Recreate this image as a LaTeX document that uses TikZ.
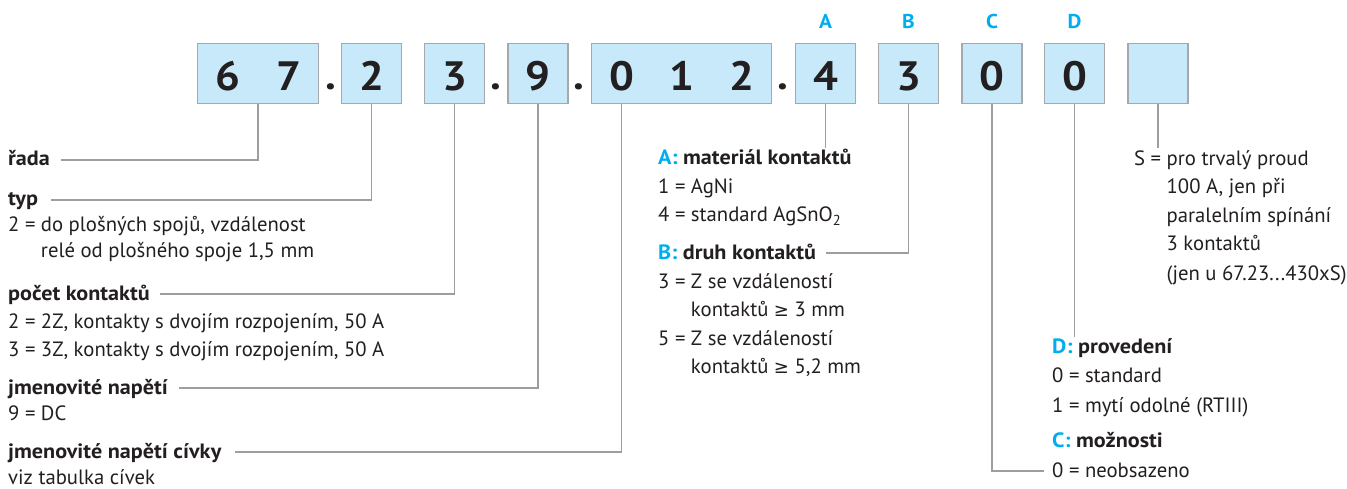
\documentclass[tikz,border=0pt]{standalone}
\usepackage{fontspec}
\setmainfont[BoldFeatures={FakeStretch=1.07}]{PT Sans}
\newfontfamily\symfont{DejaVu Sans}
\newcommand{\gesym}{{\symfont\fontsize{18}{20}\selectfont ≥}}
\definecolor{boxfill}{RGB}{200,233,249}
\definecolor{boxline}{RGB}{165,168,172}
\definecolor{conngray}{RGB}{158,158,158}
\definecolor{cyanA}{RGB}{0,174,239}
\definecolor{txt}{RGB}{35,31,32}
\begin{document}
\begin{tikzpicture}[x=1pt,y=-1pt,
  digitbox/.style={draw=boxline, line width=1.5pt, fill=boxfill, minimum height=60pt, minimum width=60pt, inner sep=0pt},
  digit/.style={anchor=base, inner sep=0pt, text=txt, font=\fontsize{41}{41}\selectfont\bfseries},
  letter/.style={anchor=base, inner sep=0pt, text=cyanA, font=\fontsize{20}{24}\selectfont\bfseries},
  lbl/.style={anchor=base west, inner sep=0pt, text=txt, font=\fontsize{20.7}{24}\selectfont},
  hd/.style={anchor=base west, inner sep=0pt, text=txt, font=\fontsize{20.7}{24}\selectfont\bfseries},
  conn/.style={draw=conngray, line width=1.5pt}
]
\fill[white] (0,0) rectangle (1347,489);
\useasboundingbox (0,0) rectangle (1347,489);

% boxes
\node[digitbox, minimum width=121pt] (b67) at (258,73.5) {};
\node[digitbox] (b2) at (371.5,73.5) {};
\node[digitbox] (b3) at (454.5,73.5) {};
\node[digitbox] (b9) at (538,73.5) {};
\node[digitbox, minimum width=180pt] (b012) at (681.5,73.5) {};
\node[digitbox] (bA) at (825.5,73.5) {};
\node[digitbox] (bB) at (908.5,73.5) {};
\node[digitbox] (bC) at (992,73.5) {};
\node[digitbox] (bD) at (1074.5,73.5) {};
\node[digitbox] (bE) at (1158,73.5) {};

% digits
\node[digit] (d6) at (227.5,91) {6};
\node[digit] (d7) at (288.5,91) {7};
\node[digit] (d2) at (371.5,91) {2};
\node[digit] (d3) at (454.5,91) {3};
\node[digit] (d9) at (538,91) {9};
\node[digit] (d0) at (621.5,91) {0};
\node[digit] (d1) at (681.5,91) {1};
\node[digit] (d2b) at (742,91) {2};
\node[digit] (d4) at (825.5,91) {4};
\node[digit] (d3b) at (908.5,91) {3};
\node[digit] (d0b) at (992,91) {0};
\node[digit] (d0c) at (1074.5,91) {0};

% dots
\node[digit] (p1) at (331,90) {.};
\node[digit] (p2) at (496,90) {.};
\node[digit] (p3) at (579,90) {.};
\node[digit] (p4) at (783,90) {.};

% letters
\node[letter] (LA) at (825.5,29) {A};
\node[letter] (LB) at (908.5,29) {B};
\node[letter] (LC) at (992,29) {C};
\node[letter] (LD) at (1074.5,29) {D};

% left column
\node[hd] (rada) at (8,166) {řada};
\node[hd] (typ) at (8,206) {typ};
\node[lbl] (typ1) at (8,232) {2 = do plošných spojů, vzdálenost};
\node[lbl] (typ2) at (8,258) {\hphantom{2 = }relé od plošného spoje 1,5 mm};
\node[hd] (pocet) at (8,300) {počet kontaktů};
\node[lbl] (pocet1) at (8,328) {2 = 2Z, kontakty s dvojím rozpojením, 50 A};
\node[lbl] (pocet2) at (8,356) {3 = 3Z, kontakty s dvojím rozpojením, 50 A};
\node[hd] (jn) at (8,394) {jmenovité napětí};
\node[lbl] (jn1) at (8,420) {9 = DC};
\node[hd] (jnc) at (8,458) {jmenovité napětí cívky};
\node[lbl] (jnc1) at (8,484) {viz tabulka cívek};

% middle column
\node[hd] (A) at (658,165) {\textcolor{cyanA}{A:} materiál kontaktů};
\node[lbl] (A1) at (658,194) {1 = AgNi};
\node[lbl] (A2) at (658,222) {4 = standard AgSnO\textsubscript{2}};
\node[hd] (B) at (658,259) {\textcolor{cyanA}{B:} druh kontaktů};
\node[lbl] (B1) at (658,288) {3 = Z se vzdáleností};
\node[lbl] (B2) at (658,316) {\hphantom{3 = }kontaktů \gesym{} 3 mm};
\node[lbl] (B3) at (658,345) {5 = Z se vzdáleností};
\node[lbl] (B4) at (658,373) {\hphantom{5 = }kontaktů \gesym{} 5,2 mm};

% right column
\node[lbl] (S1) at (1134,166) {S = pro trvalý proud};
\node[lbl] (S2) at (1134,194) {\hphantom{S = }100 A, jen při};
\node[lbl] (S3) at (1134,223) {\hphantom{S = }paralelním spínání};
\node[lbl] (S4) at (1134,251) {\hphantom{S = }3 kontaktů};
\node[lbl] (S5) at (1134,280) {\hphantom{S = }(jen u 67.23...430xS)};
\node[hd] (D) at (1052,353) {\textcolor{cyanA}{D:} provedení};
\node[lbl] (D1) at (1052,382) {0 = standard};
\node[lbl] (D2) at (1052,412) {1 = mytí odolné (RTIII)};
\node[hd] (C) at (1052,447) {\textcolor{cyanA}{C:} možnosti};
\node[lbl] (C1) at (1052,477) {0 = neobsazeno};

% free ends
\coordinate (Aend) at (825.5,148);
\coordinate (Dend) at (1074.5,337);
\coordinate (Eend) at (1158,148);

% connectors
\draw[conn] (b67.south) |- ([xshift=11pt,yshift=6pt]rada.base east);
\draw[conn] (b2.south) |- ([xshift=13pt,yshift=6pt]typ.base east);
\draw[conn] (b3.south) |- ([xshift=10pt,yshift=6pt]pocet.base east);
\draw[conn] (b9.south) |- ([xshift=11pt,yshift=6pt]jn.base east);
\draw[conn] (d0 |- b012.south) |- ([xshift=13pt,yshift=6pt]jnc.base east);
\draw[conn] (bA.south) -- (bA.south |- Aend);
\draw[conn] (bB.south) |- ([xshift=10pt,yshift=6pt]B.base east);
\draw[conn] (bC.south) |- ([xshift=-8pt,yshift=6pt]C1.base west);
\draw[conn] (bD.south) -- (bD.south |- Dend);
\draw[conn] (bE.south) -- (bE.south |- Eend);
\end{tikzpicture}
\end{document}
